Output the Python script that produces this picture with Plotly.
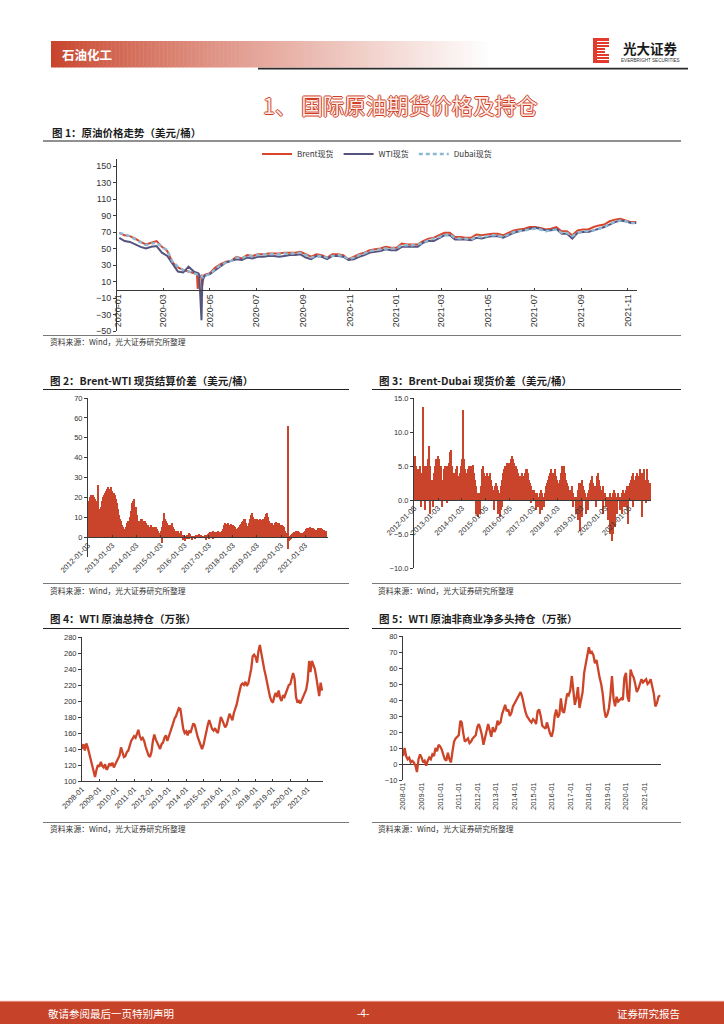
import plotly.graph_objects as go
import pandas as pd

W, H = 724, 1024
def X(px): return px / W
def Y(py): return 1 - py / H

RED = "#C9442B"
AX = "#3A3A3A"
TXT = "#333333"
CJK = "Noto Sans CJK SC"
LAT = "Liberation Sans, Arial, sans-serif"

# ================= Figure 1 data: weekly (Fridays) spot prices =================
brent_2020 = [69, 66, 65, 62, 58, 55, 57, 59, 52, 47, 33, 27, 24, 22, 20, 16, 18,
              20, 27, 31, 34, 35, 40, 38, 42, 41, 43, 43, 44, 44, 44, 45, 45, 45, 46,
              43, 40, 43, 42, 39, 43, 43, 42, 37, 40, 43, 45, 48, 49, 50, 52, 51]
brent_2021 = [51, 56, 55, 55, 55, 59, 62, 63, 66, 69, 69, 64, 64, 63, 63, 67, 66, 67,
              68, 68, 66, 69, 72, 73, 74, 76, 76, 75, 73, 74, 76, 71, 71, 66, 72,
              73, 73, 76, 78, 79, 83, 85, 86, 84, 82, 82]
wti_2020 = [63, 59, 58, 55, 52, 50, 52, 53, 45, 41, 31, 22, 21, 28, 22, 18, 17,
            19, 24, 29, 33, 35, 37, 36, 39, 38, 40, 40, 41, 41, 40, 41, 42, 42, 43,
            39, 37, 41, 40, 37, 41, 41, 40, 36, 37, 40, 42, 45, 46, 47, 49, 48]
wti_2021 = [48, 52, 52, 52, 52, 57, 59, 59, 62, 66, 66, 61, 61, 61, 60, 63, 62, 64,
            65, 65, 63, 66, 69, 71, 72, 74, 75, 74, 72, 72, 74, 68, 68, 62, 69,
            70, 70, 72, 74, 76, 79, 82, 84, 83, 81, 81]
dubai_2020 = [69, 67, 65, 61, 57, 54, 56, 57, 52, 48, 34, 28, 24, 22, 20, 18, 17,
              19, 25, 30, 33, 35, 39, 38, 41, 41, 42, 43, 43, 43, 43, 44, 44, 44, 45,
              42, 39, 41, 41, 39, 41, 42, 41, 37, 39, 42, 44, 47, 48, 49, 50, 50]
dubai_2021 = [50, 54, 54, 54, 55, 57, 60, 62, 64, 66, 67, 63, 62, 62, 61, 64, 64, 65,
              66, 66, 64, 67, 70, 71, 72, 73, 74, 73, 71, 72, 73, 69, 69, 65, 69,
              71, 71, 72, 74, 76, 80, 82, 84, 83, 81, 81]
# daily points around the April-2020 collapse
ev_dates = ["2020-04-14", "2020-04-15", "2020-04-16", "2020-04-20", "2020-04-21", "2020-04-22"]
brent_ev = [19, 1, 14, 17, 5, 13]
wti_ev = [20, 20, 20, -37, 10, 13]
dubai_ev = [19, 18, 18, 17, 15, 15]

week_dates = list(pd.date_range("2020-01-03", periods=98, freq="7D").strftime("%Y-%m-%d"))

def merge(da, va, db, vb):
    pairs = sorted(zip(da + db, va + vb))
    return [p[0] for p in pairs], [p[1] for p in pairs]

b_x, b_y = merge(week_dates, brent_2020 + brent_2021, ev_dates, brent_ev)
w_x, w_y = merge(week_dates, wti_2020 + wti_2021, ev_dates, wti_ev)
d_x, d_y = merge(week_dates, dubai_2020 + dubai_2021, ev_dates, dubai_ev)

c1_ticks = ["2020-01", "2020-03", "2020-05", "2020-07", "2020-09", "2020-11",
            "2021-01", "2021-03", "2021-05", "2021-07", "2021-09", "2021-11"]

# ================= Figure 2 data: Brent-WTI (semi-monthly) =================
bw_2012 = [14, 18, 20, 21, 20, 21, 20, 19, 18, 17, 26, 14, 13, 15, 18, 20, 21, 22, 23, 24, 25, 24, 24, 25]
bw_2013 = [23, 22, 22, 21, 19, 17, 14, 11, 9, 8, 6, 5, 4, 3, 5, 7, 8, 7, 10, 13, 17, 18, 19, 15]
bw_2014 = [15, 11, 8, 7, 8, 9, 9, 8, 7, 8, 7, 6, 6, 5, 5, 6, 5, 4, 5, 4, 5, 4, 3, 2]
bw_2015 = [2, 3, 5, 8, 12, 9, 8, 7, 6, 6, 5, 6, 7, 5, 4, 3, 3, 3, 3, 2, 2, 3, 1, 1]
bw_2016 = [0.5, 0.2, 0.5, 1, 1, 2, 1.5, 0.5, 0.5, 0.3, 0.2, 0.5, 1, 1, 0.5, 1.5, 1, 0.5, 0.5, 0.8, 1, 0.5, 1, 1.5]
bw_2017 = [2, 2.5, 2, 2, 2.5, 3, 2.5, 2, 2.5, 3, 2.5, 2, 2.5, 3, 4, 6, 7, 6.5, 6, 7, 6, 6, 6.5, 6]
bw_2018 = [6, 5.5, 5, 4, 4, 4.5, 5, 6, 6.5, 7.5, 8, 9, 9, 7, 5, 5.5, 7, 9, 11, 12, 10, 9, 9, 8.5]
bw_2019 = [9, 8.5, 8, 9, 8.5, 8, 9, 8, 10, 11.5, 12, 10, 8, 7, 6.5, 7, 6, 5.5, 7, 7.5, 6.5, 7, 7, 6]
bw_2020 = [5.5, 6, 5.5, 5, 3, 2, 1, 56, 0.5, 0.3, 1, 1.5, 2, 2.5, 2, 3, 2.5, 3, 2.5, 2, 2, 1.5, 2, 2.5]
bw_2021 = [3, 4, 4.5, 4, 4.5, 5, 4, 4.5, 4.5, 4, 3.5, 3, 3.5, 4.5, 4.5, 4, 4.5, 4, 3.5, 3.5, 3, 3]
bw_neg_dates = ["2015-02-01", "2015-12-16", "2016-01-16", "2016-02-16", "2016-03-16", "2016-05-01",
                "2016-06-16", "2016-11-16", "2017-01-01", "2017-03-16", "2020-04-16", "2020-05-01",
                "2020-05-16", "2020-06-01"]
bw_neg_vals = [-3, -1.5, -2, -1, -1, -1.2, -0.8, -1.5, -0.8, -0.6, -6, -2, -1.5, -1]
c2_tickdates = ["2012-01-03", "2013-01-03", "2014-01-03", "2015-01-03", "2016-01-03",
                "2017-01-03", "2018-01-03", "2019-01-03", "2020-01-03", "2021-01-03"]

# ================= Figure 3 data: Brent-Dubai (semi-monthly) =================
bd_2012 = [2, 6.5, 5, 4.5, 4.5, 3, 5, 3, 4, 13.7, 4, 5, 5, 4, 6, 8, 5, 3, 3, 2, 4, 5, 6, 5]
bd_2013 = [6.5, 6, 4, 5, 3, 1.5, 4.5, 5, 4, 5, 4, 5.5, 7, 7.3, 5, 4, 3, 4, 4.5, 5, 3.5, 2, 4, 5]
bd_2014 = [6, 13.3, 6, 4.5, 4, 3.5, 4.5, 5, 5, 4, 5, 5.2, 4, 3, 2, 1, 1, 0.5, 1, 2, 4.5, 5, 4, 3.5]
bd_2015 = [3.5, 4, 3, 3.5, 4, 3, 2, 1.5, 1, 2, 2.5, 2, 1.5, 1, 0.5, 2, 3, 4, 4.5, 5, 5, 5.5, 5, 5.5]
bd_2016 = [5.5, 6, 6.5, 6, 5.5, 5, 5, 4.5, 4, 3.5, 3.5, 3, 4, 3.5, 3.5, 4, 4.5, 4.5, 4, 3, 2.5, 2, 1.5, 1.5]
bd_2017 = [1.5, 1, 1, 0.5, 1, 0.5, 0.5, 1, 1.5, 1, 0.5, 0.5, 1, 2, 2.5, 3, 3.5, 4, 4.5, 4, 3, 4, 4.5, 3.5]
bd_2018 = [3, 2.5, 2, 3, 4, 5, 4.5, 5, 4, 3, 2.5, 2, 1.5, 1, 1.5, 2, 1, 0.5, 0.5, 0.5, 0.5, 1.5, 2.5, 2]
bd_2019 = [2.5, 3, 2, 1.5, 1, 0.5, 0.5, 1, 1.5, 2.5, 3, 3.5, 2.5, 2, 1.5, 2, 3.5, 4, 3, 2, 1, 1.5, 2, 1]
bd_2020 = [1, 0.5, 0.5, 0.3, 0.5, 1, 0.5, 0.3, 1, 1.5, 1, 0.5, 0.5, 1, 0.5, 0.3, 0.5, 1, 1.5, 1, 0.5, 1.5, 2, 1.5]
bd_2021 = [2, 2.5, 3, 3.5, 4, 3, 2.5, 3.5, 4, 3, 3.5, 4.5, 4, 3, 4, 4.5, 3, 2.5, 4.5, 3, 2.5, 2.5]
bd_neg_dates = ["2012-04-16", "2012-06-16", "2012-09-01", "2012-10-16", "2013-03-01", "2013-05-16",
                "2014-08-01", "2014-09-01", "2014-09-16", "2014-10-01", "2015-05-01", "2015-07-01",
                "2015-08-01", "2015-08-16", "2015-09-01", "2016-11-16", "2017-02-01", "2017-03-16",
                "2017-04-16", "2017-05-16", "2017-06-16", "2018-09-01", "2018-10-16", "2018-11-16",
                "2018-12-16", "2019-01-16", "2019-03-16", "2019-04-16", "2019-08-16", "2019-12-01",
                "2020-01-16", "2020-02-16", "2020-03-16", "2020-04-16", "2020-05-01", "2020-06-01",
                "2020-07-01", "2020-08-16", "2020-09-16", "2020-10-16", "2020-11-16", "2020-12-16",
                "2021-03-01", "2021-07-16", "2021-09-16"]
bd_neg_vals = [-1, -1.5, -2, -1, -1, -0.5,
               -2, -2.5, -1.5, -2, -1.5, -2,
               -2.5, -1.5, -1, -0.5, -1.5, -1,
               -2, -1.5, -1, -1, -2, -3,
               -4.5, -2.5, -2, -1.5, -1, -2,
               -1, -3, -5, -6, -5, -4,
               -2, -1.5, -2, -1, -1, -3.5,
               -1, -2.5, -0.5]
c3_tickdates = ["2012-01-05", "2013-01-03", "2014-01-03", "2015-01-05", "2016-01-05",
                "2017-01-03", "2018-01-03", "2019-01-03", "2020-01-03", "2021-01-05"]

# ================= Figure 4 data: WTI total open interest (monthly, 万张) =================
oi_2008 = [140, 146, 138, 147, 142, 135, 125, 118, 112, 105, 114, 120]
oi_2009 = [118, 124, 119, 117, 121, 114, 117, 122, 119, 123, 117, 121]
oi_2010 = [123, 127, 132, 142, 134, 130, 131, 136, 138, 145, 150, 153]
oi_2011 = [156, 154, 158, 164, 156, 152, 154, 150, 143, 138, 132, 130]
oi_2012 = [136, 150, 158, 152, 148, 142, 140, 146, 148, 154, 157, 150]
oi_2013 = [155, 161, 167, 172, 178, 181, 186, 191, 190, 178, 165, 160]
oi_2014 = [162, 157, 163, 160, 165, 172, 170, 160, 155, 150, 146, 140]
oi_2015 = [145, 155, 163, 170, 176, 170, 165, 163, 166, 162, 160, 170]
oi_2016 = [180, 176, 172, 167, 170, 178, 184, 180, 176, 185, 190, 196]
oi_2017 = [205, 215, 220, 222, 220, 224, 219, 222, 232, 240, 256, 258]
oi_2018 = [255, 248, 262, 270, 260, 248, 240, 232, 222, 213, 205, 200]
oi_2019 = [198, 206, 210, 205, 213, 204, 200, 207, 205, 210, 214, 220]
oi_2020 = [221, 230, 235, 228, 205, 198, 200, 197, 202, 206, 210, 214]
oi_2021 = [225, 250, 236, 250, 245, 240, 230, 218, 206, 223, 213]

# ================= Figure 5 data: WTI non-commercial net long (monthly, 万张) =================
nl_2008 = [5, 10, 5, 3, 4, 1, 2, 1, -1, -5, 3, 6]
nl_2009 = [4, 1, 2, -1, 2, 4, 3, 6, 5, 10, 8, 12]
nl_2010 = [11, 9, 6, 3, 2, 7, 3, 1, 8, 14, 16, 17]
nl_2011 = [18, 27, 26, 19, 14, 15, 16, 13, 14, 16, 17, 18]
nl_2012 = [23, 25, 22, 18, 12, 17, 22, 25, 21, 17, 23, 20]
nl_2013 = [22, 27, 25, 26, 31, 35, 37, 33, 34, 30, 32, 36]
nl_2014 = [38, 40, 42, 44, 45, 42, 37, 33, 30, 28, 27, 26]
nl_2015 = [28, 27, 25, 33, 34, 30, 24, 23, 22, 26, 22, 19]
nl_2016 = [17, 21, 30, 34, 29, 31, 41, 33, 32, 37, 44, 43]
nl_2017 = [46, 55, 45, 37, 41, 48, 35, 41, 45, 57, 62, 69]
nl_2018 = [73, 69, 70, 68, 63, 65, 58, 54, 50, 44, 34, 29]
nl_2019 = [31, 35, 43, 55, 41, 36, 42, 39, 40, 41, 40, 54]
nl_2020 = [57, 42, 39, 59, 56, 54, 50, 45, 47, 50, 53, 51]
nl_2021 = [52, 53, 50, 51, 53, 49, 44, 36, 38, 42, 43]

year_ticks = [f"{y}-01-01" for y in range(2008, 2022)]


def semimonthly(y0, m0, y1, m1):
    out, y, m = [], y0, m0
    while (y, m) <= (y1, m1):
        out += [f"{y}-{m:02d}-01", f"{y}-{m:02d}-16"]
        m += 1
        if m > 12:
            m, y = 1, y + 1
    return out

def monthly(y0, m0, y1, m1):
    out, y, m = [], y0, m0
    while (y, m) <= (y1, m1):
        out.append(f"{y}-{m:02d}-01")
        m += 1
        if m > 12:
            m, y = 1, y + 1
    return out

sm_dates = semimonthly(2012, 1, 2021, 11)
bw_vals = bw_2012 + bw_2013 + bw_2014 + bw_2015 + bw_2016 + bw_2017 + bw_2018 + bw_2019 + bw_2020 + bw_2021
bd_vals = bd_2012 + bd_2013 + bd_2014 + bd_2015 + bd_2016 + bd_2017 + bd_2018 + bd_2019 + bd_2020 + bd_2021
m_dates = monthly(2008, 1, 2021, 11)
oi_vals = (oi_2008 + oi_2009 + oi_2010 + oi_2011 + oi_2012 + oi_2013 + oi_2014 + oi_2015 +
           oi_2016 + oi_2017 + oi_2018 + oi_2019 + oi_2020 + oi_2021)
nl_vals = (nl_2008 + nl_2009 + nl_2010 + nl_2011 + nl_2012 + nl_2013 + nl_2014 + nl_2015 +
           nl_2016 + nl_2017 + nl_2018 + nl_2019 + nl_2020 + nl_2021)

BARW = 15.3 * 86400000

fig = go.Figure()
# Figure 1
fig.add_trace(go.Scatter(x=b_x, y=b_y, name="Brent现货", mode="lines",
                         line=dict(color="#D8452B", width=2), xaxis="x", yaxis="y"))
fig.add_trace(go.Scatter(x=w_x, y=w_y, name="WTI现货", mode="lines",
                         line=dict(color="#54547F", width=2), xaxis="x", yaxis="y"))
fig.add_trace(go.Scatter(x=d_x, y=d_y, name="Dubai现货", mode="lines",
                         line=dict(color="#8DB8D3", width=2.4, dash="4px,3px"), xaxis="x", yaxis="y"))
# Figure 2
fig.add_trace(go.Bar(x=sm_dates, y=bw_vals, width=BARW, marker=dict(color=RED, line=dict(width=0)),
                     xaxis="x2", yaxis="y2", showlegend=False))
fig.add_trace(go.Bar(x=bw_neg_dates, y=bw_neg_vals, width=BARW, marker=dict(color=RED, line=dict(width=0)),
                     xaxis="x2", yaxis="y2", showlegend=False))
# Figure 3
fig.add_trace(go.Bar(x=sm_dates, y=bd_vals, width=BARW, marker=dict(color=RED, line=dict(width=0)),
                     xaxis="x3", yaxis="y3", showlegend=False))
fig.add_trace(go.Bar(x=bd_neg_dates, y=bd_neg_vals, width=BARW, marker=dict(color=RED, line=dict(width=0)),
                     xaxis="x3", yaxis="y3", showlegend=False))
# Figure 4
fig.add_trace(go.Scatter(x=m_dates, y=oi_vals, mode="lines", line=dict(color="#CD4529", width=2.3),
                         xaxis="x4", yaxis="y4", showlegend=False))
# Figure 5
fig.add_trace(go.Scatter(x=m_dates, y=nl_vals, mode="lines", line=dict(color="#CD4529", width=2.3),
                         xaxis="x5", yaxis="y5", showlegend=False))


def zero_pos(d0, d1, r0, r1):
    return d0 + (0 - r0) / (r1 - r0) * (d1 - d0)

tickfont_s = dict(family=LAT, size=7.5, color=TXT)
tickfont_l = dict(family=LAT, size=9, color=TXT)
common_x = dict(type="date", showgrid=False, zeroline=False, showline=True, linecolor=AX, linewidth=1,
                ticks="inside", ticklen=2, tickcolor=AX, automargin=False)
common_y = dict(showgrid=False, zeroline=False, showline=True, linecolor=AX, linewidth=1,
                ticks="outside", ticklen=3, tickcolor=AX, automargin=False)

# geometry (pixels)
y1d = [Y(331), Y(159.4)]; y1r = [-50, 158]
y2d = [Y(557), Y(398)]; y2r = [-10, 70]
y3d = [Y(568), Y(398)]; y3r = [-10, 15]
y4d = [Y(781), Y(637)]; y4r = [100, 280]
y5d = [Y(780), Y(636)]; y5r = [-10, 80]

fig.update_layout(
    xaxis=dict(common_x, domain=[X(117), X(637)], range=["2019-12-31", "2021-11-13"],
               anchor="free", position=zero_pos(*y1d, *y1r),
               tickvals=[t + "-01" for t in c1_ticks], ticktext=c1_ticks, tickangle=-90, tickfont=tickfont_l),
    yaxis=dict(common_y, domain=y1d, range=y1r, anchor="x", tickvals=list(range(-50, 151, 20)), tickfont=tickfont_l),
    xaxis2=dict(common_x, domain=[X(88), X(328)], range=["2012-01-01", "2021-12-15"],
                anchor="free", position=zero_pos(*y2d, *y2r),
                tickvals=c2_tickdates, ticktext=c2_tickdates, tickangle=-45, tickfont=tickfont_s),
    yaxis2=dict(common_y, domain=y2d, range=y2r, anchor="x2", tickvals=list(range(0, 71, 10)), tickfont=tickfont_s),
    xaxis3=dict(common_x, domain=[X(414), X(651)], range=["2012-01-01", "2021-12-01"],
                anchor="free", position=zero_pos(*y3d, *y3r),
                tickvals=c3_tickdates, ticktext=c3_tickdates, tickangle=-45, tickfont=tickfont_s),
    yaxis3=dict(common_y, domain=y3d, range=y3r, anchor="x3", tickvals=[-10, -5, 0, 5, 10, 15],
                tickformat=".1f", tickfont=tickfont_s),
    xaxis4=dict(common_x, domain=[X(82), X(323)], range=["2008-01-01", "2021-11-20"], anchor="y4",
                tickvals=year_ticks, tickformat="%Y-%m", tickangle=-45, tickfont=tickfont_s),
    yaxis4=dict(common_y, domain=y4d, range=y4r, anchor="x4", dtick=20, tick0=100, tickfont=tickfont_s),
    xaxis5=dict(common_x, domain=[X(403), X(661)], range=["2008-01-01", "2021-11-20"], anchor="y5",
                showline=False, ticks="", tickvals=year_ticks, tickformat="%Y-%m", tickangle=-90,
                tickfont=tickfont_s),
    yaxis5=dict(common_y, domain=y5d, range=y5r, anchor="x5", dtick=10, tick0=-10, tickfont=tickfont_s,
                zeroline=True, zerolinecolor=AX, zerolinewidth=1),
)

# ---------------- shapes ----------------
shapes = []
# header gradient band
x0b, x1b = 51, 492
n = 110
for i in range(n):
    t = i / (n - 1)
    f = t ** 0.85
    r = int(200 + (255 - 200) * f)
    g = int(68 + (255 - 68) * f)
    b = int(43 + (255 - 43) * f)
    xa = x0b + (x1b - x0b) * i / n
    xb = x0b + (x1b - x0b) * (i + 1) / n + 0.5
    shapes.append(dict(type="rect", xref="paper", yref="paper", x0=X(xa), x1=X(xb), y0=Y(67.5), y1=Y(41),
                       line=dict(width=0), fillcolor=f"rgb({r},{g},{b})", layer="below"))
# header rule
shapes.append(dict(type="line", xref="paper", yref="paper", x0=X(258), x1=X(688), y0=Y(68.6), y1=Y(68.6),
                   line=dict(color="#2B2B2B", width=1.6)))
# logo icon
shapes.append(dict(type="rect", xref="paper", yref="paper", x0=X(593), x1=X(609), y0=Y(63), y1=Y(38),
                   line=dict(width=0), fillcolor="#E23B2E"))
for yy in [41.5, 44.5, 47.5, 50.5, 53.5, 56.5, 59.5]:
    shapes.append(dict(type="line", xref="paper", yref="paper", x0=X(597), x1=X(609.5), y0=Y(yy), y1=Y(yy),
                       line=dict(color="white", width=1)))
shapes.append(dict(type="rect", xref="paper", yref="paper", x0=X(605), x1=X(609.5), y0=Y(53), y1=Y(48),
                   line=dict(width=0), fillcolor="white"))

def hline(py, xa, xb, color="#222222", width=1.2):
    shapes.append(dict(type="line", xref="paper", yref="paper", x0=X(xa), x1=X(xb), y0=Y(py), y1=Y(py),
                       line=dict(color=color, width=width)))

# figure title rules
hline(141, 43, 681)
hline(389.5, 43, 349)
hline(389.5, 372, 681)
hline(628.5, 43, 349)
hline(628.5, 372, 681)
# source rules
hline(335.5, 43, 681, "#555555", 0.8)
hline(583.5, 43, 349, "#555555", 0.8)
hline(583.5, 372, 681, "#555555", 0.8)
hline(822.5, 43, 349, "#555555", 0.8)
hline(822.5, 372, 681, "#555555", 0.8)
# footer band
shapes.append(dict(type="rect", xref="paper", yref="paper", x0=0, x1=1, y0=0, y1=Y(1001),
                   line=dict(width=0), fillcolor="#C6432A"))
hline(1001.3, 0, 724, "#E9998A", 1)

# ---------------- annotations ----------------
ann = []
def text(px, py, s, size, color=TXT, anchor="left", family=CJK, weight="normal", shadow=None):
    f = dict(family=family, size=size, color=color, weight=weight)
    if shadow:
        f["shadow"] = shadow
    ann.append(dict(xref="paper", yref="paper", x=X(px), y=Y(py), text=s, showarrow=False,
                    xanchor=anchor, yanchor="middle", font=f))

text(60, 54.5, "石油化工", 12.5, "white", weight="bold")
text(650, 47.5, "光大证券", 13.5, "#1A1A1A", "center", weight="bold")
text(650, 60.5, "EVERBRIGHT SECURITIES", 4.6, "#333333", "center", family=LAT)
outline = ",".join(f"{dx}px {dy}px 0 #CF3F27" for dx, dy in
                   [(1, 0), (-1, 0), (0, 1), (0, -1)])
text(400, 104, "1、 国际原油期货价格及持仓", 21.5, "#FCEAE4", "center", weight="normal", shadow=outline)

text(50, 132.5, "图 1：原油价格走势（美元/桶）", 10.5, "#1E1E1E", weight="bold")
text(48, 380, "图 2：Brent-WTI 现货结算价差（美元/桶）", 10.5, "#1E1E1E", weight="bold")
text(377, 380, "图 3：Brent-Dubai 现货价差（美元/桶）", 10.5, "#1E1E1E", weight="bold")
text(48, 618.5, "图 4：WTI 原油总持仓（万张）", 10.5, "#1E1E1E", weight="bold")
text(377, 618.5, "图 5：WTI 原油非商业净多头持仓（万张）", 10.5, "#1E1E1E", weight="bold")

src = "资料来源：Wind，光大证券研究所整理"
text(48, 341.5, src, 7.8)
text(48, 590, src, 7.8)
text(376, 590, src, 7.8)
text(48, 828.5, src, 7.8)
text(376, 828.5, src, 7.8)

text(46, 1013, "敬请参阅最后一页特别声明", 10.5, "white")
text(363, 1013, "-4-", 10, "white", "center", family=LAT)
text(682, 1013, "证券研究报告", 10.5, "white", "right")

fig.update_layout(
    width=W, height=H, margin=dict(l=0, r=0, t=0, b=0),
    template="none", paper_bgcolor="white", plot_bgcolor="rgba(0,0,0,0)",
    font=dict(family=CJK, size=9, color=TXT),
    barmode="overlay", bargap=0,
    showlegend=True,
    legend=dict(orientation="h", x=X(377), xanchor="center", y=Y(154), yanchor="middle",
                font=dict(family=CJK, size=8, color=TXT), bgcolor="rgba(0,0,0,0)",
                itemwidth=30, tracegroupgap=0),
    shapes=shapes, annotations=ann,
)

fig.write_html("out.html", config={"displayModeBar": False},
               post_script="document.body.style.margin='0';document.body.style.padding='0';"
                           "document.documentElement.style.overflow='hidden';")
